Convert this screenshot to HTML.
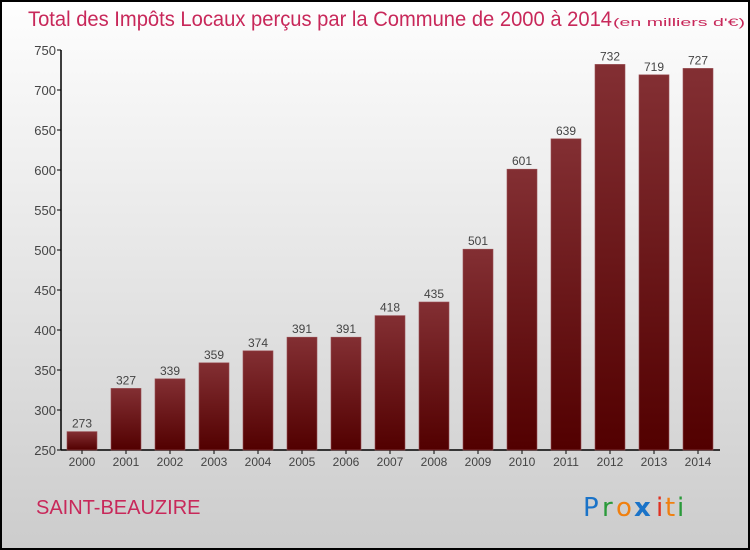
<!DOCTYPE html>
<html><head><meta charset="utf-8"><style>
body{margin:0;}
svg{display:block;font-family:"Liberation Sans",sans-serif;}
</style></head><body>
<svg id="chart" width="750" height="550" viewBox="0 0 750 550">
<defs>
<linearGradient id="bg" x1="0" y1="0" x2="0" y2="1"><stop offset="0" stop-color="#fefefe"/><stop offset="1" stop-color="#cccccc"/></linearGradient>
<linearGradient id="bar" x1="0" y1="0" x2="0" y2="1"><stop offset="0" stop-color="#832f33"/><stop offset="1" stop-color="#520000"/></linearGradient>
</defs>
<rect x="1" y="1" width="748" height="548" fill="url(#bg)" stroke="#000" stroke-width="2"/>
<text x="28" y="26" font-size="21" fill="#c8285a" textLength="584" lengthAdjust="spacingAndGlyphs">Total des Impôts Locaux perçus par la Commune de 2000 à 2014</text>
<text x="613" y="26" font-size="11" fill="#c8285a" textLength="132" lengthAdjust="spacingAndGlyphs">(en milliers d'€)</text>
<g id="axes"></g>
<g id="bars"></g>
<text x="36" y="514" font-size="20" fill="#c8285a">SAINT-BEAUZIRE</text>
<g font-size="26" font-family="'DejaVu Sans',sans-serif">
<text x="583" y="516" fill="#1a73c8">P</text><text x="602" y="516" fill="#2a9a3a">r</text><text x="616" y="516" fill="#f08010">o</text><text x="634" y="516" fill="#1a73c8" font-weight="bold">x</text><text x="656" y="516" fill="#e03020">i</text><text x="665" y="516" fill="#f08010">t</text><text x="677" y="516" fill="#2a9a3a">i</text>
</g>
</svg>
<script>
const years=["2000","2001","2002","2003","2004","2005","2006","2007","2008","2009","2010","2011","2012","2013","2014"];
const values=[273,327,339,359,374,391,391,418,435,501,601,639,732,719,727];
const yTicks=[250,300,350,400,450,500,550,600,650,700,750];
const NS="http://www.w3.org/2000/svg";
const y0=450,y1=50,vmin=250,vmax=750,x0=61,x1=720;
function yS(v){return y0-(v-vmin)/(vmax-vmin)*(y0-y1);}
function xS(i){return 82+i*44;}
function mk(t,a,p){const e=document.createElementNS(NS,t);for(const k in a)e.setAttribute(k,a[k]);p.appendChild(e);return e;}
const ax=document.getElementById('axes'),bg=document.getElementById('bars');
let l=mk('line',{x1:x0,y1:y1,x2:x0,y2:y0,stroke:'#000','stroke-width':1.5},ax);


l=mk('line',{x1:x0,y1:y0,x2:x1,y2:y0,stroke:'#000','stroke-width':1.5},ax);


yTicks.forEach(v=>{
 const t=mk('line',{x1:x0-4,x2:x0,y1:yS(v),y2:yS(v),stroke:'#000'},ax);
 
 
 const tx=mk('text',{x:x0-5,y:yS(v)+5,'text-anchor':'end','font-size':13,fill:'#444'},ax);
 tx.textContent=v;
 
 
});
years.forEach((yr,i)=>{
 const cx=xS(i),v=values[i];
 const r=mk('rect',{x:cx-15,y:yS(v),width:30,height:y0-yS(v),fill:'url(#bar)',stroke:'#9a5055','stroke-width':0.6},bg);
 
 
 const lb=mk('text',{x:cx,y:yS(v)-4,'text-anchor':'middle','font-size':12,fill:'#444'},bg);
 lb.textContent=v;
 
 
 const tk=mk('line',{x1:cx,x2:cx,y1:y0,y2:y0+4,stroke:'#000'},ax);
 
 
 const xl=mk('text',{x:cx,y:y0+16,'text-anchor':'middle','font-size':12,fill:'#444'},ax);
 xl.textContent=yr;
 
 
});
</script>
</body></html>
